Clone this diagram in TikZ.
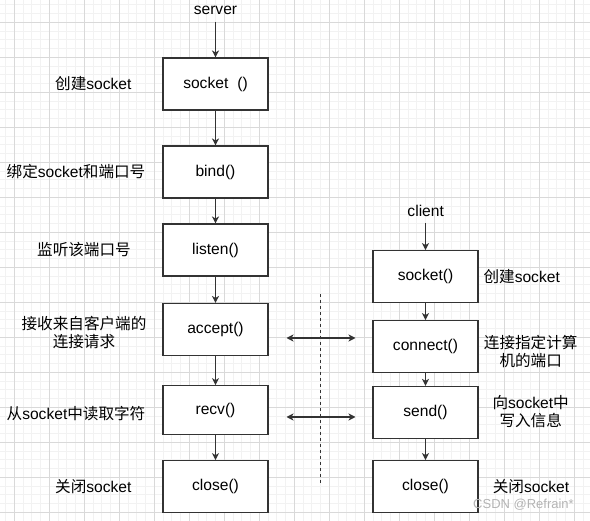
\documentclass[tikz,border=0pt]{standalone}
\usepackage{fontspec}
\setmainfont{Liberation Sans}
\newfontfamily\cjk{Noto Sans CJK SC}
\usetikzlibrary{arrows.meta}
\definecolor{gmajor}{HTML}{D9D9D9}
\definecolor{gminor}{HTML}{F2F2F2}
\definecolor{ink}{HTML}{333333}
\definecolor{wm}{HTML}{B4B4B4}
\tikzset{
  stepbox/.style={draw=ink, line width=1.1pt, fill=white, minimum width=105pt, minimum height=52pt, inner sep=0pt, font=\fontsize{15.6}{18}\selectfont},
  lbl/.style={inner sep=0pt, align=center, font=\fontsize{15.6}{18}\selectfont},
  flow/.style={draw=ink, line width=1.1pt, -{Stealth[length=7pt,width=7pt,inset=2pt]}},
  both/.style={draw=ink, line width=1.1pt, {Stealth[length=7pt,width=7pt,inset=2pt]}-{Stealth[length=7pt,width=7pt,inset=2pt]}},
}
\begin{document}
\begin{tikzpicture}[x=1pt,y=-1pt]
\useasboundingbox (0,0) rectangle (590,521);
\fill[white] (0,0) rectangle (590,521);
% grid
\foreach \i in {-2,...,67} \draw[gminor, line width=0.9pt] ({14.3+8.75*\i},0) -- ({14.3+8.75*\i},521);
\foreach \i in {-3,...,57} \draw[gminor, line width=0.9pt] (0,{22.3+8.75*\i}) -- (590,{22.3+8.75*\i});
\foreach \i in {0,...,16} \draw[gmajor, line width=0.9pt] ({14.3+35*\i},0) -- ({14.3+35*\i},521);
\foreach \i in {-1,...,14} \draw[gmajor, line width=0.9pt] (0,{22.3+35*\i}) -- (590,{22.3+35*\i});

% server column
\node[lbl] (server) at (215.5,10) {server};
\node[stepbox] (s1) at (215.5,84) {socket\hspace{9pt}()\hspace{10pt}};
\node[stepbox] (s2) at (215.5,172) {bind()};
\node[stepbox] (s3) at (215.5,250) {listen()};
\node[stepbox] (s4) at (215.5,329.5) {accept()};
\node[stepbox, minimum height=48.6pt] (s5) at (215.5,410) {recv()};
\node[stepbox] (s6) at (215.5,486.7) {close()};

\coordinate (st) at (215.5,22);
\draw[flow] (st) -- (s1.north);
\draw[flow] (s1) -- (s2);
\draw[flow] (s2) -- (s3);
\draw[flow] (s3) -- (s4);
\draw[flow] (s4) -- (s5);
\draw[flow] (s5) -- (s6);

% left labels
\node[lbl] (l1) at (93.3,83.3) {{\cjk 创建}socket};
\node[lbl] (l2) at (76,171.7) {{\cjk 绑定}socket{\cjk 和端口号}};
\node[lbl] (l3) at (84,250) {{\cjk 监听该端口号}};
\node[lbl] (l4) at (84,333) {{\cjk 接收来自客户端的}\\{\cjk 连接请求}};
\node[lbl] (l5) at (76,413.3) {{\cjk 从}socket{\cjk 中读取字符}};
\node[lbl] (l6) at (93.3,486.7) {{\cjk 关闭}socket};

% client column
\node[lbl] (client) at (425.7,210.7) {client};
\node[stepbox] (c1) at (425.5,276.6) {socket()};
\node[stepbox] (c2) at (425.5,346.6) {connect()};
\node[stepbox] (c3) at (425.5,412.4) {send()};
\node[stepbox] (c4) at (425.5,486.6) {close()};

\coordinate (ct) at (425.5,223);
\draw[flow] (ct) -- (c1.north);
\draw[flow] (c1) -- (c2);
\draw[flow] (c2) -- (c3);
\draw[flow] (c3) -- (c4);

% right labels
\node[lbl] (r1) at (521.7,276.7) {{\cjk 创建}socket};
\node[lbl] (r2) at (530.7,351.2) {{\cjk 连接指定计算}\\{\cjk 机的端口}};
\node[lbl] (r3) at (530.7,411.8) {{\cjk 向}socket{\cjk 中}\\{\cjk 写入信息}};
\node[lbl] (r4) at (531,486.7) {{\cjk 关闭}socket};

% dashed separator
\coordinate (d1) at (320.7,294);
\coordinate (d2) at (320.7,485.3);
\draw[ink, line width=1pt, dash pattern=on 3pt off 3pt] (d1) -- (d2);

% double arrows
\coordinate (a1) at (286.5,338);
\coordinate (a2) at (355.5,338);
\coordinate (b1) at (286.5,417);
\coordinate (b2) at (355.5,417);
\draw[both] (a1) -- (a2);
\draw[both] (b1) -- (b2);

% watermark
\node[inner sep=0pt, text=wm, font=\fontsize{13}{15}\selectfont] (wmk) at (523.5,505) {CSDN @Refrain*};
\end{tikzpicture}
\end{document}
